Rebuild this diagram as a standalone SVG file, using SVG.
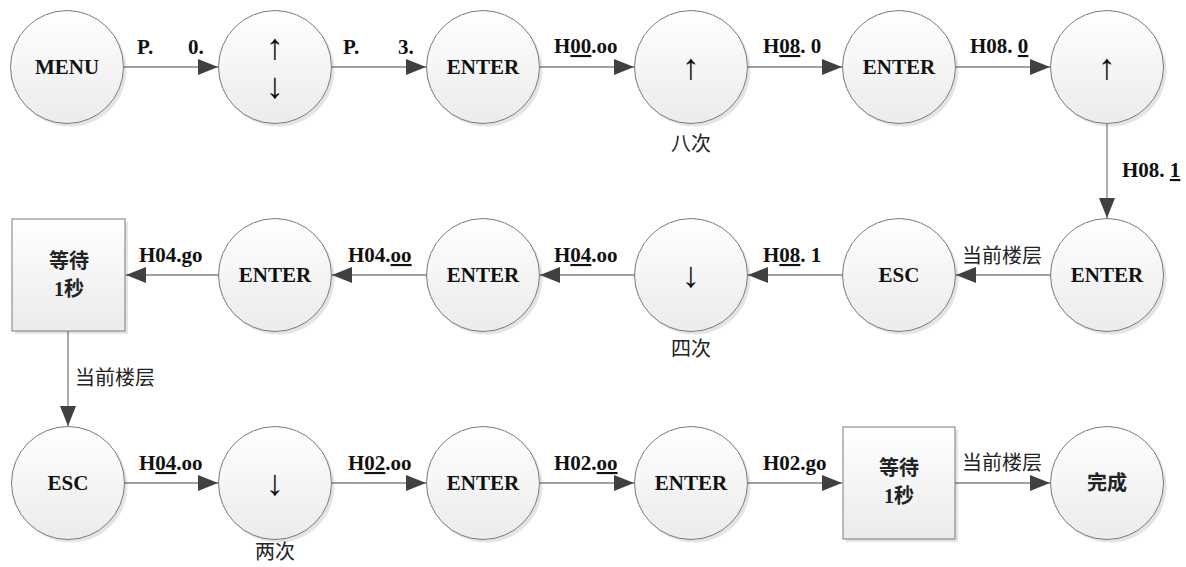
<svg xmlns="http://www.w3.org/2000/svg" width="1186" height="567" viewBox="0 0 1186 567">
<style>
.bg{fill:#ffffff}
.sh{fill:#000;opacity:0.10}
.nd{fill:url(#g);stroke:#7a7a7a;stroke-width:1}
.nt{font-family:'Liberation Serif',serif;font-weight:bold;font-size:21px;fill:#111;text-anchor:middle}
.ar{font-family:'Liberation Serif',serif;font-weight:bold;font-size:36px;fill:#111;text-anchor:middle}
.bt{font-family:'Liberation Serif','Noto Sans CJK SC',serif;font-weight:bold;font-size:20px;fill:#222;text-anchor:middle}
.lb{font-family:'Liberation Serif',serif;font-weight:bold;font-size:21px;fill:#111}
.cj{font-family:'Noto Sans CJK SC',sans-serif;font-size:20px;fill:#222}
.cjm{font-family:'Noto Sans CJK SC',sans-serif;font-size:20px;fill:#222;text-anchor:middle}
.ln{stroke:#808080;stroke-width:1.3;fill:none;marker-end:url(#ah)}
.u{text-decoration:underline}
</style>
<defs>
<linearGradient id="g" x1="0" y1="0" x2="0" y2="1">
<stop offset="0" stop-color="#ffffff"/>
<stop offset="1" stop-color="#ebebeb"/>
</linearGradient>
<marker id="ah" markerUnits="userSpaceOnUse" markerWidth="22" markerHeight="16" refX="20" refY="8" orient="auto">
<path d="M0,0 L20,8 L0,16 Z" fill="#404040"/>
</marker>
</defs>
<rect class="bg" x="0" y="0" width="1186" height="567"/>

<g id="connectors">
<line class="ln" x1="124" y1="67" x2="218" y2="67"/>
<line class="ln" x1="332" y1="67" x2="426" y2="67"/>
<line class="ln" x1="540" y1="67" x2="634" y2="67"/>
<line class="ln" x1="748" y1="67" x2="842" y2="67"/>
<line class="ln" x1="956" y1="67" x2="1050" y2="67"/>
<line class="ln" x1="1107" y1="124" x2="1107" y2="218"/>
<line class="ln" x1="1051" y1="275" x2="956" y2="275"/>
<line class="ln" x1="843" y1="275" x2="748" y2="275"/>
<line class="ln" x1="635" y1="275" x2="540" y2="275"/>
<line class="ln" x1="427" y1="275" x2="332" y2="275"/>
<line class="ln" x1="219" y1="275" x2="126" y2="275"/>
<line class="ln" x1="68" y1="331" x2="68" y2="426"/>
<line class="ln" x1="124" y1="483" x2="218" y2="483"/>
<line class="ln" x1="332" y1="483" x2="426" y2="483"/>
<line class="ln" x1="540" y1="483" x2="634" y2="483"/>
<line class="ln" x1="748" y1="483" x2="842" y2="483"/>
<line class="ln" x1="955" y1="483" x2="1050" y2="483"/>

<text class="lb" x="137" y="54">P.</text>
<text class="lb" x="188" y="54">0.</text>
<text class="lb" x="343" y="54">P.</text>
<text class="lb" x="398" y="54">3.</text>
<text class="lb" x="554" y="53">H<tspan class="u">00</tspan>.oo</text>
<text class="lb" x="763" y="53">H<tspan class="u">08</tspan>. 0</text>
<text class="lb" x="970" y="53">H08. <tspan class="u">0</tspan></text>
<text class="lb" x="1122" y="177">H08. <tspan class="u">1</tspan></text>

<text class="cj" x="962" y="263">当前楼层</text>
<text class="lb" x="763" y="262">H<tspan class="u">08</tspan>. 1</text>
<text class="lb" x="554" y="262">H<tspan class="u">04</tspan>.oo</text>
<text class="lb" x="348" y="262">H04.<tspan class="u">oo</tspan></text>
<text class="lb" x="139" y="262">H04.go</text>
<text class="cj" x="75" y="385">当前楼层</text>

<text class="lb" x="139" y="470">H<tspan class="u">04</tspan>.oo</text>
<text class="lb" x="348" y="470">H<tspan class="u">02</tspan>.oo</text>
<text class="lb" x="554" y="470">H02.<tspan class="u">oo</tspan></text>
<text class="lb" x="763" y="470">H02.go</text>
<text class="cj" x="962" y="470">当前楼层</text>
</g>

<g id="n1"><circle class="sh" cx="70" cy="70" r="56.5"/><circle class="nd" cx="67" cy="67" r="56.5"/><text class="nt" x="67" y="74">MENU</text></g>
<g id="n2"><circle class="sh" cx="278" cy="70" r="56.5"/><circle class="nd" cx="275" cy="67" r="56.5"/><text class="ar" x="275" y="59">↑</text><text class="ar" x="275" y="98">↓</text></g>
<g id="n3"><circle class="sh" cx="486" cy="70" r="56.5"/><circle class="nd" cx="483" cy="67" r="56.5"/><text class="nt" x="483" y="74">ENTER</text></g>
<g id="n4"><circle class="sh" cx="694" cy="70" r="56.5"/><circle class="nd" cx="691" cy="67" r="56.5"/><text class="ar" x="691" y="79">↑</text><text class="cjm" x="691" y="151">八次</text></g>
<g id="n5"><circle class="sh" cx="902" cy="70" r="56.5"/><circle class="nd" cx="899" cy="67" r="56.5"/><text class="nt" x="899" y="74">ENTER</text></g>
<g id="n6"><circle class="sh" cx="1110" cy="70" r="56.5"/><circle class="nd" cx="1107" cy="67" r="56.5"/><text class="ar" x="1107" y="79">↑</text></g>

<g id="n7"><circle class="sh" cx="1110" cy="278" r="56.5"/><circle class="nd" cx="1107" cy="275" r="56.5"/><text class="nt" x="1107" y="282">ENTER</text></g>
<g id="n8"><circle class="sh" cx="902" cy="278" r="56.5"/><circle class="nd" cx="899" cy="275" r="56.5"/><text class="nt" x="899" y="282">ESC</text></g>
<g id="n9"><circle class="sh" cx="694" cy="278" r="56.5"/><circle class="nd" cx="691" cy="275" r="56.5"/><text class="ar" x="691" y="287">↓</text><text class="cjm" x="691" y="356">四次</text></g>
<g id="n10"><circle class="sh" cx="486" cy="278" r="56.5"/><circle class="nd" cx="483" cy="275" r="56.5"/><text class="nt" x="483" y="282">ENTER</text></g>
<g id="n11"><circle class="sh" cx="278" cy="278" r="56.5"/><circle class="nd" cx="275" cy="275" r="56.5"/><text class="nt" x="275" y="282">ENTER</text></g>
<g id="n12"><rect class="sh" x="15" y="222" width="113" height="112"/><rect class="nd" x="12" y="219" width="113" height="112"/><text class="bt" x="69" y="268">等待</text><text class="bt" x="69" y="296">1秒</text></g>

<g id="n13"><circle class="sh" cx="71" cy="486" r="56.5"/><circle class="nd" cx="68" cy="483" r="56.5"/><text class="nt" x="68" y="490">ESC</text></g>
<g id="n14"><circle class="sh" cx="278" cy="486" r="56.5"/><circle class="nd" cx="275" cy="483" r="56.5"/><text class="ar" x="275" y="495">↓</text><text class="cjm" x="275" y="559">两次</text></g>
<g id="n15"><circle class="sh" cx="486" cy="486" r="56.5"/><circle class="nd" cx="483" cy="483" r="56.5"/><text class="nt" x="483" y="490">ENTER</text></g>
<g id="n16"><circle class="sh" cx="694" cy="486" r="56.5"/><circle class="nd" cx="691" cy="483" r="56.5"/><text class="nt" x="691" y="490">ENTER</text></g>
<g id="n17"><rect class="sh" x="846" y="430" width="112" height="112"/><rect class="nd" x="843" y="427" width="112" height="112"/><text class="bt" x="899" y="475">等待</text><text class="bt" x="899" y="503">1秒</text></g>
<g id="n18"><circle class="sh" cx="1110" cy="486" r="56.5"/><circle class="nd" cx="1107" cy="483" r="56.5"/><text class="bt" x="1107" y="490">完成</text></g>
</svg>
